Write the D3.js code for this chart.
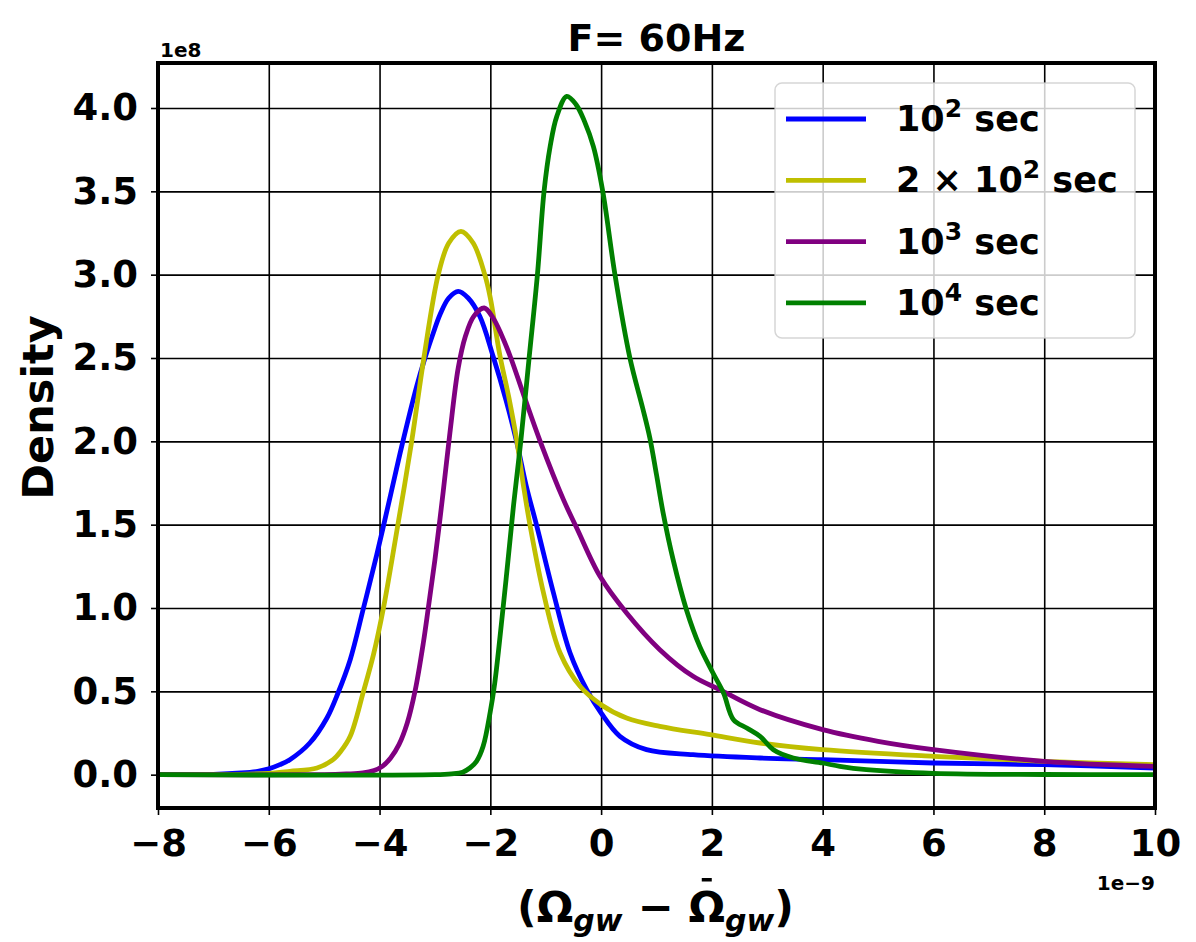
<!DOCTYPE html>
<html>
<head>
  <meta http-equiv="Content-Type" content="text/html; charset=UTF-8">
  <script src="https://d3js.org/d3.v7.min.js"></script>
  <style>
    body { margin:0; background:#fff; }
    text { font-family: "DejaVu Sans", sans-serif; font-weight: bold; }
  </style>
</head>
<body>
<svg width="1196" height="942"></svg>
<script>
// ticks
var xTicks = [-8, -6, -4, -2, 0, 2, 4, 6, 8, 10];
var yTicks = [0, 0.5, 1.0, 1.5, 2.0, 2.5, 3.0, 3.5, 4.0];

// series: [x (1e-9), density (1e8)]
var sec100 = [[-8,0],[-7,0.002],[-6.5,0.01],[-6.2,0.02],[-6,0.035],[-5.8,0.06],[-5.62,0.09],[-5.26,0.19],
  [-4.95,0.34],[-4.75,0.49],[-4.53,0.69],[-4.29,1.0],[-4.05,1.32],[-3.8,1.68],[-3.6,1.97],[-3.33,2.33],
  [-3.18,2.5],[-3.03,2.65],[-2.91,2.76],[-2.75,2.86],[-2.58,2.9],[-2.4,2.86],[-2.19,2.75],[-1.95,2.51],
  [-1.72,2.25],[-1.52,1.99],[-1.35,1.73],[-1.16,1.49],[-0.86,1.09],[-0.56,0.73],[-0.26,0.51],[0,0.37],
  [0.34,0.23],[0.82,0.15],[1.66,0.12],[2.87,0.1],[4,0.09],[6,0.07],[8,0.06],[10,0.04]];
var sec200 = [[-8,0],[-6.5,0.002],[-6,0.008],[-5.62,0.02],[-5.13,0.04],[-4.84,0.09],[-4.7,0.14],[-4.53,0.23],
  [-4.29,0.5],[-4.11,0.72],[-3.93,1.0],[-3.72,1.4],[-3.42,2.0],[-3.2,2.5],[-2.94,3.0],[-2.75,3.19],
  [-2.53,3.26],[-2.31,3.19],[-2.1,3.0],[-2.0,2.86],[-1.83,2.52],[-1.67,2.27],[-1.52,2.0],[-1.4,1.73],
  [-1.28,1.49],[-1.04,1.09],[-0.74,0.73],[-0.38,0.53],[0,0.42],[0.46,0.34],[1.06,0.29],[1.97,0.24],
  [2.87,0.19],[4,0.15],[6,0.11],[8,0.08],[10,0.06]];
var sec1000 = [[-8,0],[-5,0],[-4.6,0.004],[-4.3,0.01],[-4.1,0.025],[-3.95,0.05],[-3.8,0.1],[-3.65,0.18],
  [-3.5,0.31],[-3.36,0.5],[-3.21,0.79],[-3.12,1.0],[-3.0,1.29],[-2.85,1.7],[-2.73,2.05],[-2.58,2.44],
  [-2.45,2.63],[-2.3,2.75],[-2.11,2.8],[-1.95,2.74],[-1.8,2.64],[-1.63,2.5],[-1.4,2.28],[-1.1,2.0],
  [-0.68,1.65],[-0.44,1.48],[-0.02,1.19],[0.46,0.97],[1.06,0.75],[1.66,0.59],[2.14,0.51],[2.87,0.39],
  [4,0.27],[5,0.2],[6,0.15],[8,0.08],[10,0.05]];
var sec10000 = [[-8,0],[-3,0],[-2.7,0.005],[-2.5,0.015],[-2.37,0.04],[-2.25,0.08],[-2.13,0.17],[-2.0,0.38],
  [-1.92,0.55],[-1.77,1.0],[-1.68,1.29],[-1.58,1.62],[-1.45,2.0],[-1.3,2.5],[-1.15,3.0],[-1.03,3.5],
  [-0.92,3.77],[-0.8,3.95],[-0.62,4.07],[-0.45,4.02],[-0.3,3.92],[-0.14,3.77],[0.03,3.5],[0.25,3.0],
  [0.52,2.5],[0.75,2.2],[0.88,2.02],[1.0,1.8],[1.12,1.57],[1.3,1.29],[1.54,0.99],[1.78,0.77],[2.02,0.61],
  [2.21,0.49],[2.39,0.33],[2.63,0.28],[2.87,0.23],[3.11,0.15],[3.47,0.1],[4,0.07],[4.31,0.05],[4.79,0.03],
  [6,0.008],[8,0.001],[10,0]];

var seriesData = [sec100, sec200, sec1000, sec10000];
var seriesColors = ["#0000ff", "#bfbf00", "#800080", "#008000"];
// legend labels: [base, exponent, suffix]
var seriesLabels = [["10", "2", " sec"], ["2 \u00d7 10", "2", " sec"], ["10", "3", " sec"], ["10", "4", " sec"]];

var margin = {top: 63, left: 158},
    width = 997,
    height = 745;

var svg = d3.select("svg");
var g = svg.append("g").attr("transform", "translate(" + margin.left + "," + margin.top + ")");

var x = d3.scaleLinear().domain([-8, 10]).range([0, width]);
var y = d3.scaleLinear().domain([-0.2, 4.27]).range([height, 0]);

var fmt = function(d) { return (d < 0 ? "\u2212" : "") + Math.abs(d); };

// grid
g.append("g")
    .attr("transform", "translate(0," + height + ")")
    .call(d3.axisBottom(x).tickValues(xTicks).tickSize(-height).tickFormat(""))
    .call(function(s) { s.select(".domain").remove(); })
    .selectAll("line").attr("stroke", "#000").attr("stroke-width", 1.6);
g.append("g")
    .call(d3.axisLeft(y).tickValues(yTicks).tickSize(-width).tickFormat(""))
    .call(function(s) { s.select(".domain").remove(); })
    .selectAll("line").attr("stroke", "#000").attr("stroke-width", 1.6);

// curves
g.append("clipPath").attr("id", "clip")
  .append("rect").attr("width", width).attr("height", height);

var line = d3.line()
    .x(function(d) { return x(d[0]); })
    .y(function(d) { return y(d[1]); })
    .curve(d3.curveCatmullRom.alpha(0.5));

g.append("g").attr("clip-path", "url(#clip)")
  .selectAll("path")
  .data(seriesData)
  .enter().append("path")
    .attr("d", line)
    .attr("fill", "none")
    .attr("stroke", function(d, i) { return seriesColors[i]; })
    .attr("stroke-width", 4.8)
    .attr("stroke-linejoin", "round");

// axes
var xAxis = g.append("g")
    .attr("transform", "translate(0," + height + ")")
    .call(d3.axisBottom(x).tickValues(xTicks).tickSize(7).tickPadding(15).tickFormat(fmt));
var yAxis = g.append("g")
    .call(d3.axisLeft(y).tickValues(yTicks).tickSize(7).tickPadding(13).tickFormat(d3.format(".1f")));
[xAxis, yAxis].forEach(function(a) {
  a.select(".domain").remove();
  a.selectAll("line").attr("stroke", "#000").attr("stroke-width", 1.6);
  a.selectAll("text").attr("fill", "#000").style("font-size", "37px")
    .style("font-family", "'DejaVu Sans', sans-serif").style("font-weight", "bold");
});

// frame
g.append("rect")
    .attr("width", width).attr("height", height)
    .attr("fill", "none").attr("stroke", "#000").attr("stroke-width", 4);

// offset labels
g.append("text").attr("x", 2).attr("y", -6).style("font-size", "20px").text("1e8");
g.append("text").attr("x", width).attr("y", height + 82).attr("text-anchor", "end")
    .style("font-size", "20px").text("1e\u22129");

// title
g.append("text").attr("x", width / 2).attr("y", -12).attr("text-anchor", "middle")
    .style("font-size", "38px").text("F= 60Hz");

// y label
g.append("text")
    .attr("transform", "translate(-105," + (height / 2 - 28) + ") rotate(-90)")
    .attr("text-anchor", "middle")
    .style("font-size", "43px").text("Density");

// x label
var xlY = height + 114;
var xl = g.append("text").attr("x", width / 2 - 1).attr("y", xlY)
    .attr("text-anchor", "middle").style("font-size", "43px");
xl.append("tspan").text("(\u03a9");
xl.append("tspan").attr("dy", 9).style("font-size", "30px").style("font-style", "italic").text("gw");
xl.append("tspan").attr("dy", -9).text(" \u2212 \u03a9");
xl.append("tspan").attr("dy", 9).style("font-size", "30px").style("font-style", "italic").text("gw");
xl.append("tspan").attr("dy", -9).text(")");
// bar over the second omega (character index 7)
var s0 = xl.node().getStartPositionOfChar(7).x,
    s1 = xl.node().getEndPositionOfChar(7).x,
    mid = (s0 + s1) / 2;
g.append("rect").attr("x", mid - 5).attr("y", xlY - 44).attr("width", 10).attr("height", 3.5).attr("fill", "#000");

// legend
var lg = g.append("g").attr("transform", "translate(" + (775 - margin.left) + "," + (83 - margin.top) + ")");
lg.append("rect")
    .attr("width", 360).attr("height", 255).attr("rx", 7)
    .attr("fill", "#fff").attr("fill-opacity", 0.8)
    .attr("stroke", "#ccc").attr("stroke-opacity", 0.8).attr("stroke-width", 1.5);
seriesLabels.forEach(function(lab, i) {
  var row = lg.append("g").attr("transform", "translate(0," + (36 + i * 61.3) + ")");
  row.append("line").attr("x1", 11).attr("x2", 91)
      .attr("stroke", seriesColors[i]).attr("stroke-width", 4.8);
  var t = row.append("text").attr("x", 121).attr("y", 12).style("font-size", "35px");
  t.append("tspan").text(lab[0]);
  t.append("tspan").attr("dy", -14).style("font-size", "25px").text(lab[1]);
  t.append("tspan").attr("dy", 14).text(lab[2]);
});
</script>
</body>
</html>
